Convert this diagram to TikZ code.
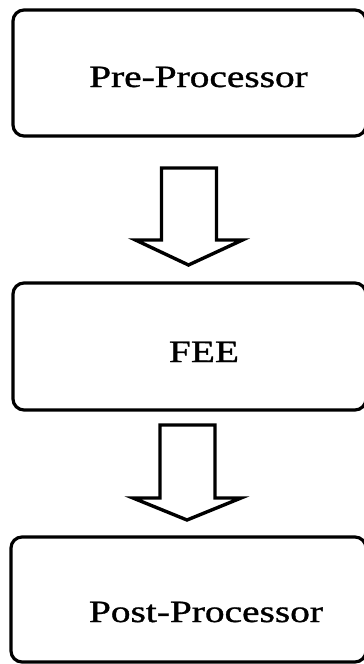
\documentclass[tikz,border=0pt]{standalone}
\usepackage{fontspec}
\usepackage{graphicx}
\setmainfont{Liberation Serif}[FakeBold=1.0]
\begin{document}
\begin{tikzpicture}[x=1pt,y=-1pt,
  procbox/.style={draw=black, line width=3.2pt, rounded corners=11pt, inner sep=0pt},
  boxlabel/.style={anchor=base, inner sep=0pt, font=\fontsize{31}{36}\selectfont},
  blockarrow/.style={draw=black, line width=3.4pt, line join=miter, fill=white}]
  \useasboundingbox (0,0) rectangle (364,664);
  \clip (0,0) rectangle (364,664);

  % stage boxes (right side runs off the page edge)
  \node[procbox, minimum width=353pt, minimum height=126pt] (pre)  at (189.5,73) {};
  \node[procbox, minimum width=353pt, minimum height=127pt] (fee)  at (189.5,346.5) {};
  \node[procbox, minimum width=355pt, minimum height=125pt] (post) at (188.5,599.5) {};

  % box captions
  \node[boxlabel] (tpre)  at (198.5,87)  {\scalebox{1.27}[1]{Pre-Processor}};
  \node[boxlabel] (tfee)  at (204,362)   {\scalebox{1.27}[1]{FEE}};
  \node[boxlabel] (tpost) at (206,622)   {\scalebox{1.27}[1]{Post-Processor}};

  % hollow block arrows between the stages
  \coordinate (a1) at (189,168);
  \draw[blockarrow] (a1) ++(-27.5,0) -- ++(0,72) -- ++(-26,0) -- (188.5,265)
        -- (242.5,240) -- (216.5,240) -- (216.5,168) -- cycle;
  \coordinate (a2) at (187.5,425);
  \draw[blockarrow] (a2) ++(-27.5,0) -- ++(0,73) -- ++(-27,0) -- (187,520)
        -- (241,498) -- (215,498) -- (215,425) -- cycle;
\end{tikzpicture}
\end{document}
